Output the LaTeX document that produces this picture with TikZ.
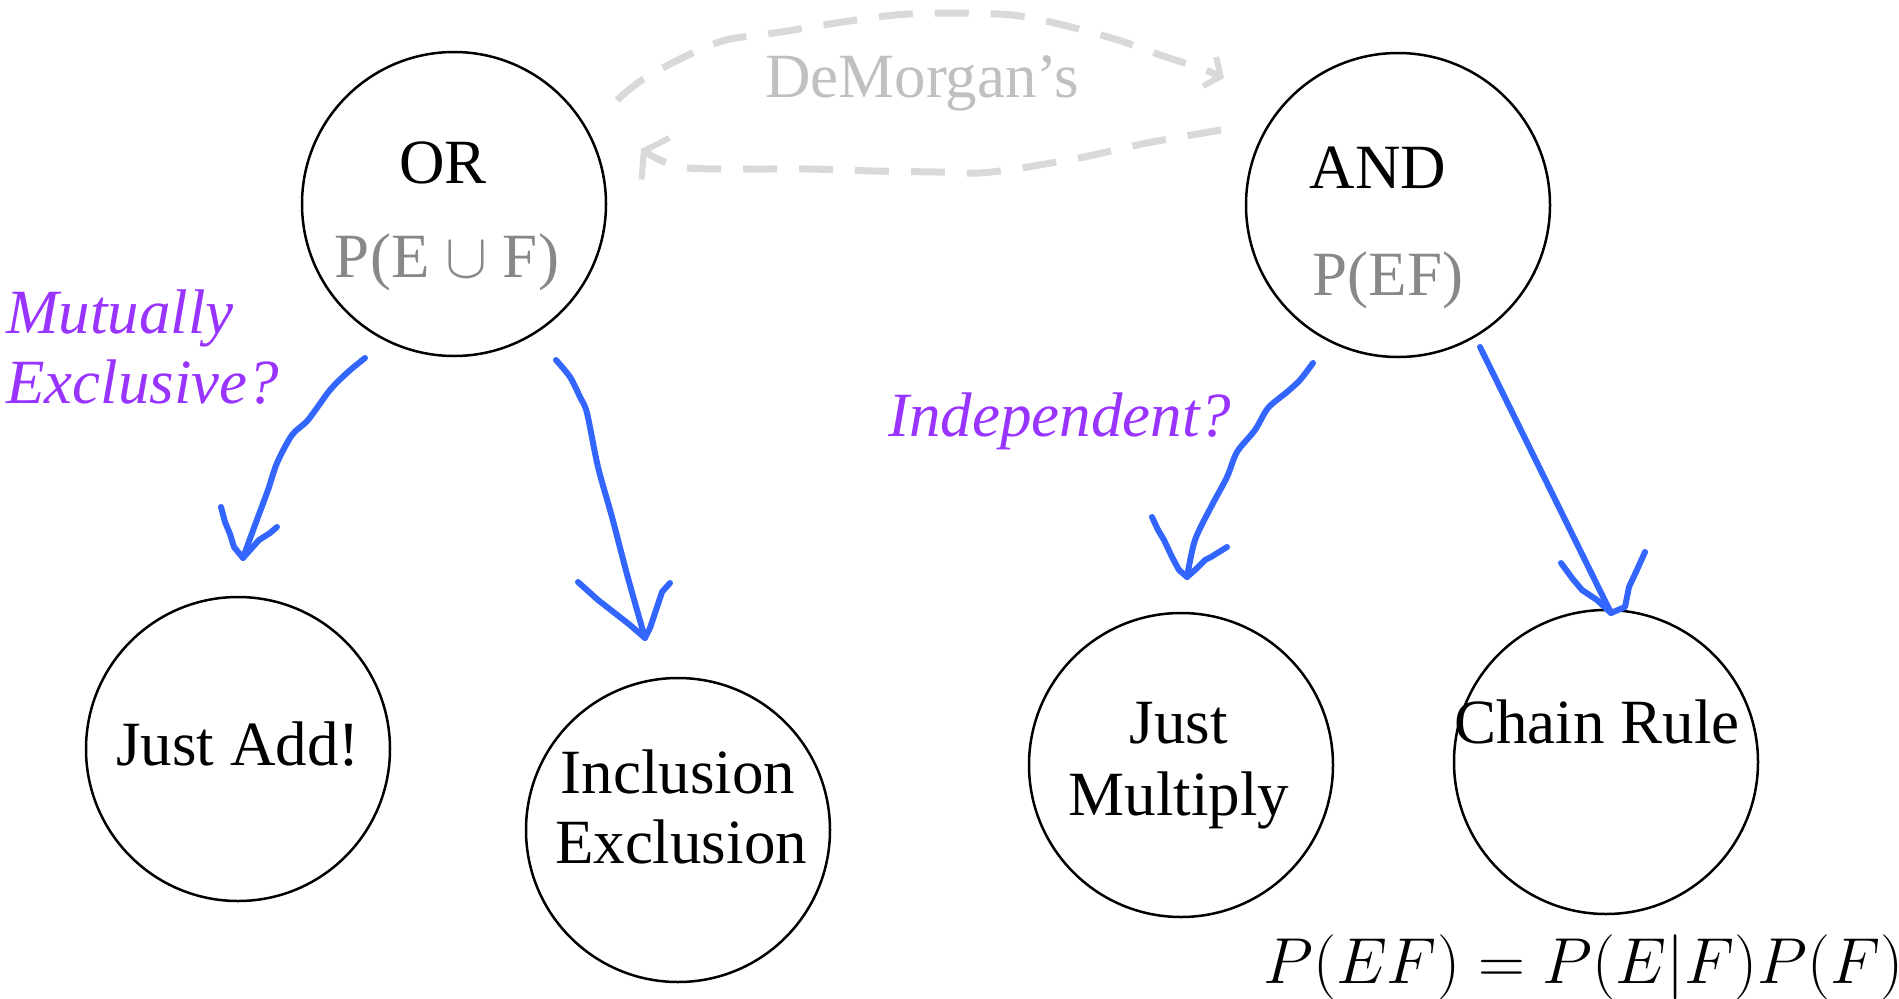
\documentclass[tikz,border=0pt]{standalone}
\usepackage{fix-cm}
\usepackage{fontspec}
\setmainfont{Liberation Serif}
\usetikzlibrary{arrows.meta}
\definecolor{penblue}{RGB}{51,102,255}
\definecolor{qpurple}{RGB}{153,51,255}
\definecolor{subgray}{RGB}{136,136,136}
\definecolor{dmgray}{RGB}{192,192,192}
\definecolor{dashgray}{RGB}{217,217,217}
\begin{document}
\begin{tikzpicture}[x=1pt,y=-1pt,
  bubble/.style={circle,draw,line width=2.5pt,minimum size=304pt,inner sep=0pt},
  lbl/.style={anchor=base,font=\fontsize{63}{70}\selectfont,inner sep=0pt},
  sub/.style={lbl,text=subgray},
  question/.style={anchor=base west,font=\fontsize{63}{70}\selectfont\itshape,text=qpurple,inner sep=0pt},
  pen/.style={penblue,line width=6pt,line cap=round,line join=round},
  dm/.style={dashgray,line width=7pt,dash pattern=on 34pt off 22pt}]
\useasboundingbox (0,0) rectangle (1899,999);
% circles
\node[bubble] (or) at (454,204) {};
\node[bubble] (and) at (1398,205) {};
\node[bubble] (add) at (238,749) {};
\node[bubble] (incl) at (678,830) {};
\node[bubble] (mult) at (1181,765) {};
\node[bubble] (chain) at (1606,762) {};
% texts
\node[lbl] (ortxt) at (443,183) {OR};
\node[sub] (orsub) at (447,277) {P(E $\cup$ F)};
\node[lbl] (andtxt) at (1378,188) {AND};
\node[sub] (andsub) at (1388,295) {P(EF)};
\node[lbl] (addtxt) at (238,765) {Just Add!};
\node[lbl] (incl1) at (678,793) {Inclusion};
\node[lbl] (incl2) at (681,863) {Exclusion};
\node[lbl] (mult1) at (1179,743) {Just};
\node[lbl] (mult2) at (1179,815) {Multiply};
\node[lbl] (chaintxt) at (1597,743) {Chain Rule};
\node[question] (mutex1) at (6,333) {Mutually};
\node[question] (mutex2) at (6,403) {Exclusive?};
\node[question] (indep) at (888,436) {Independent?};
\node[lbl,text=dmgray] (dmtxt) at (922,97) {DeMorgan's};
\node[anchor=base west,inner sep=0pt] (formula) at (1263,983) {\fontsize{65}{72}\selectfont $P(EF)=P(E|F)P(F)$};
% DeMorgan dashed arrows
\coordinate (dmA) at (617,100);
\coordinate (dmB) at (1224,78);
\coordinate (dmC) at (1221,130);
\coordinate (dmD) at (641,149);
\draw[dm,-{Straight Barb[length=12pt,width=32pt,line width=6pt]}] plot[smooth] coordinates {(dmA) (642,80) (684,57) (726,40) (781,32) (836,23) (895,15) (949,13) (1012,15) (1063,25) (1118,40) (1160,55) (1200,68) (dmB)};
\draw[dm,-{Straight Barb[length=14pt,width=50pt,line width=6pt]}] plot[smooth] coordinates {(dmC) (1147,143) (1084,157) (1021,168) (979,173) (937,172) (874,171) (810,169) (747,169) (688,168) (660,160) (dmD)};
% blue hand-drawn arrows
\coordinate (a1s) at (365,358);
\coordinate (a1t) at (243,558);
\draw[pen] plot[smooth] coordinates {(a1s) (348,372) (330,390) (308,420) (292,435) (277,463) (268,490) (255,525) (a1t)};
\draw[pen] (221,507) -- (225,522) -- (230,534) -- (234,547) -- (a1t) -- (259,540) -- (270,533) -- (277,527);
\coordinate (a2s) at (556,360);
\coordinate (a2t) at (645,638);
\draw[pen] plot[smooth] coordinates {(a2s) (570,377) (580,397) (587,413) (598,467) (612,517) (628,578) (a2t)};
\draw[pen] (578,582) -- (598,600) -- (616,614) -- (630,625) -- (a2t) -- (650,628) -- (656,610) -- (662,592) -- (670,583);
\coordinate (a3s) at (1313,363);
\coordinate (a3t) at (1187,577);
\draw[pen] plot[smooth] coordinates {(a3s) (1300,380) (1287,392) (1268,408) (1255,430) (1237,452) (1227,477) (1211,507) (1195,540) (a3t)};
\draw[pen] (1152,517) -- (1158,530) -- (1164,540) -- (1172,557) -- (1179,570) -- (a3t) -- (1195,570) -- (1205,560) -- (1211,557) -- (1227,547);
\coordinate (a4s) at (1480,347);
\coordinate (a4t) at (1611,613);
\draw[pen] (a4s) -- (a4t);
\draw[pen] (1561,563) -- (1572,578) -- (1582,590) -- (1597,600) -- (a4t) -- (1625,607) -- (1629,587) -- (1636,572) -- (1645,552);
\end{tikzpicture}
\end{document}
